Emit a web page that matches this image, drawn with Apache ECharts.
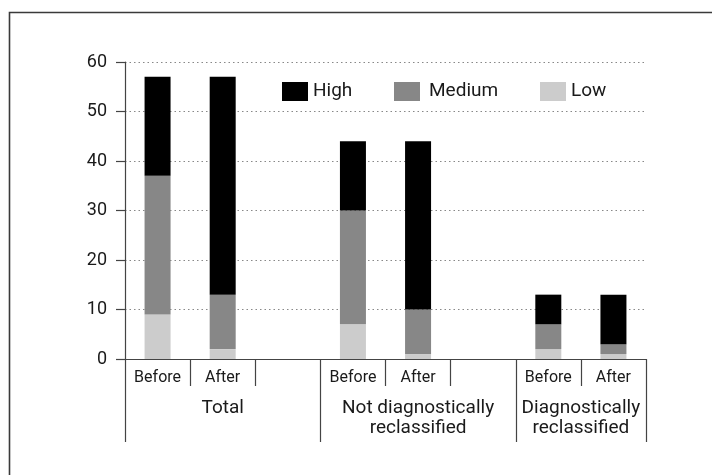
<!DOCTYPE html>
<html>
<head>
<meta charset="utf-8">
<script src="https://cdn.jsdelivr.net/npm/echarts@6/dist/echarts.min.js"></script>
<style>
html,body{margin:0;padding:0;background:#fff;}
#c{width:712px;height:475px;}
</style>
</head>
<body>
<div id="c"></div>
<script>
// ---- data ----
const categories = ['Before', 'After', '', 'Before', 'After', '', 'Before', 'After'];
const groupLabels = ['', 'Total', '', '', 'Not diagnostically\nreclassified', '', '', ''];
const pairLabels = ['', '', '', 'Diagnostically\nreclassified'];
const seriesNames = ['High', 'Medium', 'Low'];
const lowValues = [9, 2, null, 7, 1, null, 2, 1];
const mediumValues = [28, 11, null, 23, 9, null, 5, 2];
const highValues = [20, 44, null, 14, 34, null, 6, 10];
const yTicks = [0, 10, 20, 30, 40, 50, 60];

// ---- style ----
const FONT = 'Roboto';
const TXT = '#1a1a1a';
const LINE = '#444';
const colors = { High: '#000000', Medium: '#878787', Low: '#cccccc' };

const chart = echarts.init(document.getElementById('c'), null, { renderer: 'canvas' });

function legendAt(name, left, padLeft) {
  return {
    data: [name], left: left, top: 77, itemWidth: 26, itemHeight: 19,
    icon: 'rect', selectedMode: false,
    textStyle: { fontFamily: FONT, fontSize: 19, color: TXT, padding: [0, 0, 0, padLeft] }
  };
}

const xLabelStyle = { fontFamily: FONT, color: TXT };

chart.setOption({
  animation: false,
  backgroundColor: '#fff',
  graphic: [{
    type: 'rect', left: 7, top: 10, silent: true,
    shape: { width: 720, height: 480 },
    style: { fill: 'none', stroke: '#3a3a3a', lineWidth: 1.6 }
  }],
  legend: [legendAt('High', 277, 0), legendAt('Medium', 389, 4), legendAt('Low', 535, 0)],
  grid: { left: 125, right: 66, top: 62, bottom: 116 },
  xAxis: [{
    type: 'category', data: categories, position: 'bottom',
    axisLine: { show: true, lineStyle: { color: LINE, width: 1.2 } },
    axisTick: { show: true, interval: 0, length: 27, lineStyle: { color: LINE, width: 1.2 } },
    axisLabel: Object.assign({ interval: 0, fontSize: 16, margin: 11 }, xLabelStyle)
  }, {
    type: 'category', data: groupLabels, position: 'bottom', offset: 27,
    axisLine: { show: false },
    axisTick: { show: true, length: 56, lineStyle: { color: LINE, width: 1.2 },
      interval: function (i) { return i === 0 || i === 3 || i === 6; } },
    axisLabel: Object.assign({ fontSize: 19, lineHeight: 20, margin: 12,
      interval: function (i) { return i === 1 || i === 4; } }, xLabelStyle)
  }, {
    type: 'category', data: pairLabels, position: 'bottom', offset: 27,
    axisLine: { show: false }, axisTick: { show: false },
    axisLabel: Object.assign({ fontSize: 19, lineHeight: 20, margin: 12, interval: 0 }, xLabelStyle)
  }],
  yAxis: {
    type: 'value', min: yTicks[0], max: yTicks[yTicks.length - 1], interval: 10,
    axisLine: { show: true, lineStyle: { color: LINE, width: 1.2 } },
    axisTick: { show: true, length: 9, lineStyle: { color: LINE, width: 1.2 } },
    axisLabel: { fontFamily: FONT, fontSize: 18, color: TXT, margin: 18 },
    splitLine: { show: true, lineStyle: { color: '#888', type: [1.5, 3], width: 1.2 } }
  },
  series: [
    { name: 'Low', type: 'bar', stack: 's', data: lowValues, barWidth: 26, xAxisIndex: 0,
      itemStyle: { color: colors.Low } },
    { name: 'Medium', type: 'bar', stack: 's', data: mediumValues, barWidth: 26, xAxisIndex: 0,
      itemStyle: { color: colors.Medium } },
    { name: 'High', type: 'bar', stack: 's', data: highValues, barWidth: 26, xAxisIndex: 0,
      itemStyle: { color: colors.High } }
  ]
});
</script>
</body>
</html>
